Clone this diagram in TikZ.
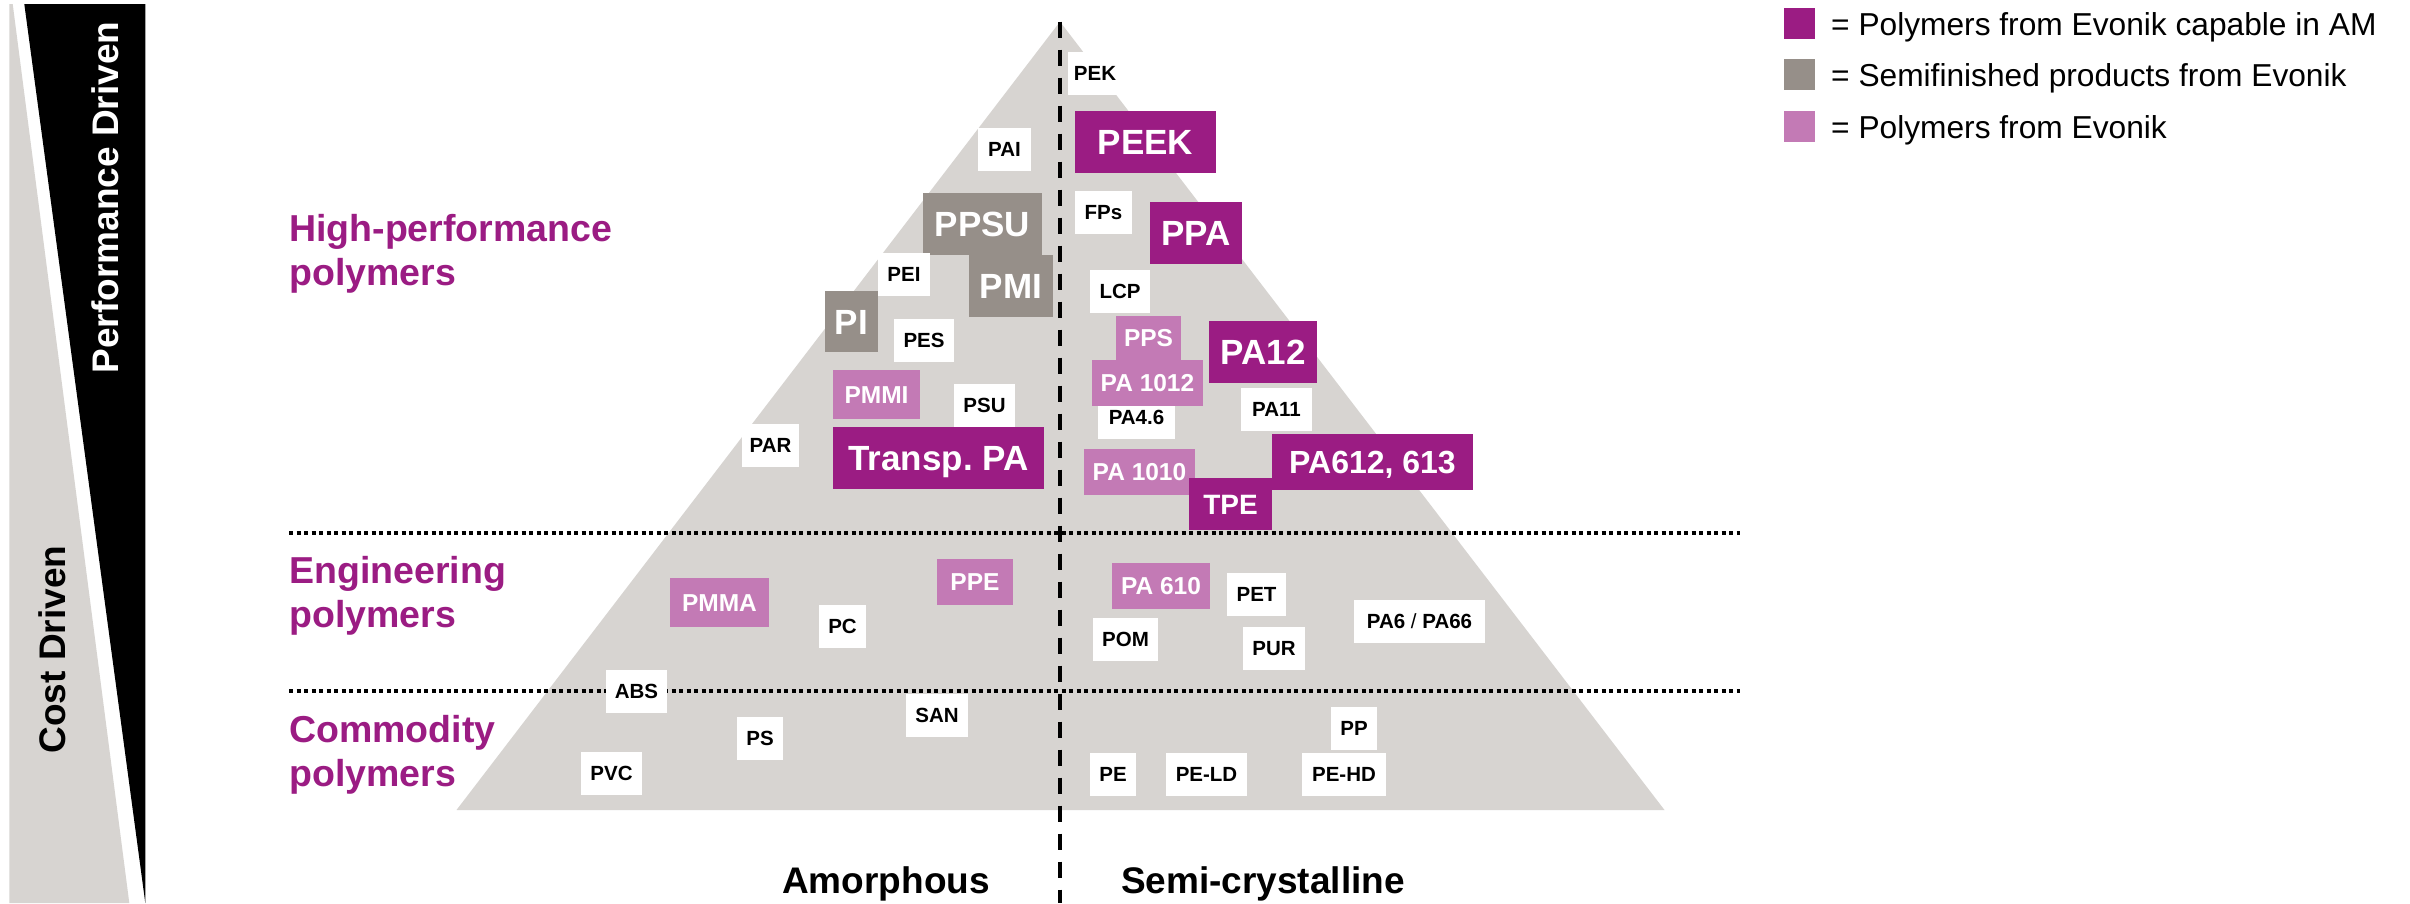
\documentclass[tikz,border=0pt]{standalone}
\usepackage{fontspec}
\setmainfont{Liberation Sans}
\usetikzlibrary{positioning}
\definecolor{evopurple}{RGB}{155,28,131}
\definecolor{evogray}{RGB}{150,143,137}
\definecolor{evolilac}{RGB}{195,122,181}
\definecolor{pyrgray}{RGB}{215,212,209}

\begin{document}
\begin{tikzpicture}[x=1pt, y=-1pt,
    plainbox/.style={rectangle, fill=white, inner sep=0pt, minimum height=43pt, font=\fontsize{20.5}{24}\selectfont\bfseries, text height=14.7pt, text depth=0pt},
    amnode/.style={rectangle, fill=evopurple, text=white, inner sep=0pt, minimum height=62pt, font=\fontsize{35}{40}\selectfont\bfseries, text height=25pt, text depth=0pt},
    semibox/.style={rectangle, fill=evogray, text=white, inner sep=0pt, minimum height=62pt, font=\fontsize{35}{40}\selectfont\bfseries, text height=25pt, text depth=0pt},
    evobox/.style={rectangle, fill=evolilac, text=white, inner sep=0pt, minimum height=46pt, font=\fontsize{24.5}{28}\selectfont\bfseries, text height=17.5pt, text depth=0pt},
    tierlabel/.style={inner sep=0pt, align=left, text=evopurple, font=\fontsize{37.5}{44}\selectfont\bfseries},
    axislabel/.style={inner sep=0pt, font=\fontsize{37}{44}\selectfont\bfseries},
    legsq/.style={rectangle, inner sep=0pt, minimum size=31pt},
    legtext/.style={inner sep=0pt, font=\fontsize{31.7}{38}\selectfont},
    tierline/.style={line width=4pt, dash pattern=on 4pt off 3.5pt},
    axisline/.style={line width=3.7pt, dash pattern=on 16pt off 12pt}
]
\useasboundingbox (0,0) rectangle (2410,903);
\fill[white] (0,0) rectangle (2410,903);

% cost / performance wedges
\fill[pyrgray] (9.3,4) -- (12.7,4) -- (129.3,903) -- (9.3,903) -- cycle;
\fill[black] (24.3,4) -- (145.3,4) -- (145.3,903) -- cycle;
\node[axislabel, rotate=90, anchor=base, text=white] (perfdriven) at (118,197.5) {Performance Driven};
\node[axislabel, rotate=90, anchor=base] (costdriven) at (65,649.5) {Cost Driven};

% pyramid
\coordinate (apex) at (1060,21.7);
\coordinate (baseL) at (456.5,810);
\coordinate (baseR) at (1664.5,810);
\coordinate (axbot) at (1060,903);
\fill[pyrgray] (baseL) -- (apex) -- (baseR) -- cycle;
\coordinate (hiL) at (289,532.5);
\coordinate (hiR) at (1740,532.5);
\coordinate (loL) at (289,691);
\coordinate (loR) at (1740,691);
\draw[tierline] (hiL) -- (hiR);
\draw[tierline] (loL) -- (loR);
\draw[axisline] (apex) -- (axbot);

% high-performance, amorphous
\node[plainbox, minimum width=53pt] (pai) at (1004.5,149.5) {PAI};
\node[semibox, minimum width=119pt] (ppsu) at (982.5,224) {PPSU};
\node[semibox, minimum width=84pt] (pmi) at (1011,286) {PMI};
\node[plainbox, minimum width=52pt] (pei) at (904,274.5) {PEI};
\node[semibox, minimum width=53pt, minimum height=61pt] (pi) at (851.5,321.5) {PI};
\node[plainbox, minimum width=60pt] (pes) at (924,340.5) {PES};
\node[evobox, minimum width=87pt, minimum height=49pt] (pmmi) at (876.5,394.5) {PMMI};
\node[plainbox, minimum width=61pt] (psu) at (984.5,405.5) {PSU};
\node[plainbox, minimum width=57pt] (par) at (770.5,445.5) {PAR};
\node[amnode, minimum width=211pt] (transpa) at (938.5,458) {Transp.\ PA};

% high-performance, semi-crystalline
\node[plainbox, minimum width=54pt] (pek) at (1095,73.5) {PEK};
\node[amnode, minimum width=141pt] (peek) at (1145.5,142) {PEEK};
\node[plainbox, minimum width=57pt] (fps) at (1103.5,212) {FPs};
\node[amnode, minimum width=92pt] (ppa) at (1196,233) {PPA};
\node[plainbox, minimum width=60pt] (lcp) at (1120,291.5) {LCP};
\node[plainbox, minimum width=77pt] (pafour) at (1136.5,417.5) {PA4.6};
\node[evobox, minimum width=65pt, minimum height=44pt] (pps) at (1148.5,338) {PPS};
\node[evobox, minimum width=111pt] (pa1012) at (1147.5,383) {PA 1012};
\node[amnode, minimum width=108pt] (pa12) at (1263,352) {PA12};
\node[plainbox, minimum width=71pt] (pa11) at (1276.5,409.5) {PA11};
\node[evobox, minimum width=111pt] (pa1010) at (1139.5,472) {PA 1010};
\node[amnode, minimum width=201pt, minimum height=56pt, font=\fontsize{32}{36}\selectfont\bfseries, text height=23pt] (pa612) at (1372.5,462) {PA612, 613};
\node[amnode, minimum width=83pt, minimum height=52pt, font=\fontsize{28}{32}\selectfont\bfseries, text height=20pt] (tpe) at (1230.5,504) {TPE};

% engineering
\node[evobox, minimum width=99pt, minimum height=49pt] (pmma) at (719.5,602.5) {PMMA};
\node[plainbox, minimum width=47pt] (pc) at (842.5,626.5) {PC};
\node[evobox, minimum width=76pt] (ppe) at (975,582) {PPE};
\node[evobox, minimum width=98pt] (pa610) at (1161,586) {PA 610};
\node[plainbox, minimum width=59pt] (pet) at (1256.5,594.5) {PET};
\node[plainbox, minimum width=65pt] (pom) at (1125.5,639.5) {POM};
\node[plainbox, minimum width=62pt] (pur) at (1274,648.5) {PUR};
\node[plainbox, minimum width=131pt] (pa6) at (1419.5,621.5) {PA6 {\mdseries/} PA66};

% commodity
\node[plainbox, minimum width=61pt] (abs) at (636.5,691.5) {ABS};
\node[plainbox, minimum width=46pt] (ps) at (760,738.5) {PS};
\node[plainbox, minimum width=62pt] (san) at (937,715.5) {SAN};
\node[plainbox, minimum width=61pt] (pvc) at (611.5,773.5) {PVC};
\node[plainbox, minimum width=46pt] (pp) at (1354,728.5) {PP};
\node[plainbox, minimum width=46pt] (pe) at (1113,774.5) {PE};
\node[plainbox, minimum width=81pt] (peld) at (1206.5,774.5) {PE-LD};
\node[plainbox, minimum width=84pt] (pehd) at (1344,774.5) {PE-HD};

% tier and axis labels
\node[tierlabel, anchor=base west] (hplabel) at (289,285.5) {High-performance\\polymers};
\node[tierlabel, anchor=base west] (englabel) at (289,627.5) {Engineering\\polymers};
\node[tierlabel, anchor=base west] (comlabel) at (289,786) {Commodity\\polymers};
\node[axislabel, anchor=base] (amorph) at (886,893) {Amorphous};
\node[axislabel, anchor=base] (semicryst) at (1263,893) {Semi-crystalline};

% legend
\node[legsq, fill=evopurple] (legam) at (1799.5,23.5) {};
\node[legsq, fill=evogray] (legsemi) at (1799.5,74.5) {};
\node[legsq, fill=evolilac] (legevo) at (1799.5,126.5) {};
\node[legtext, anchor=base west] (legamtext) at (1831,35) {= Polymers from Evonik capable in AM};
\node[legtext, anchor=base west] (legsemitext) at (1831,86) {= Semifinished products from Evonik};
\node[legtext, anchor=base west] (legevotext) at (1831,138) {= Polymers from Evonik};
\end{tikzpicture}
\end{document}
